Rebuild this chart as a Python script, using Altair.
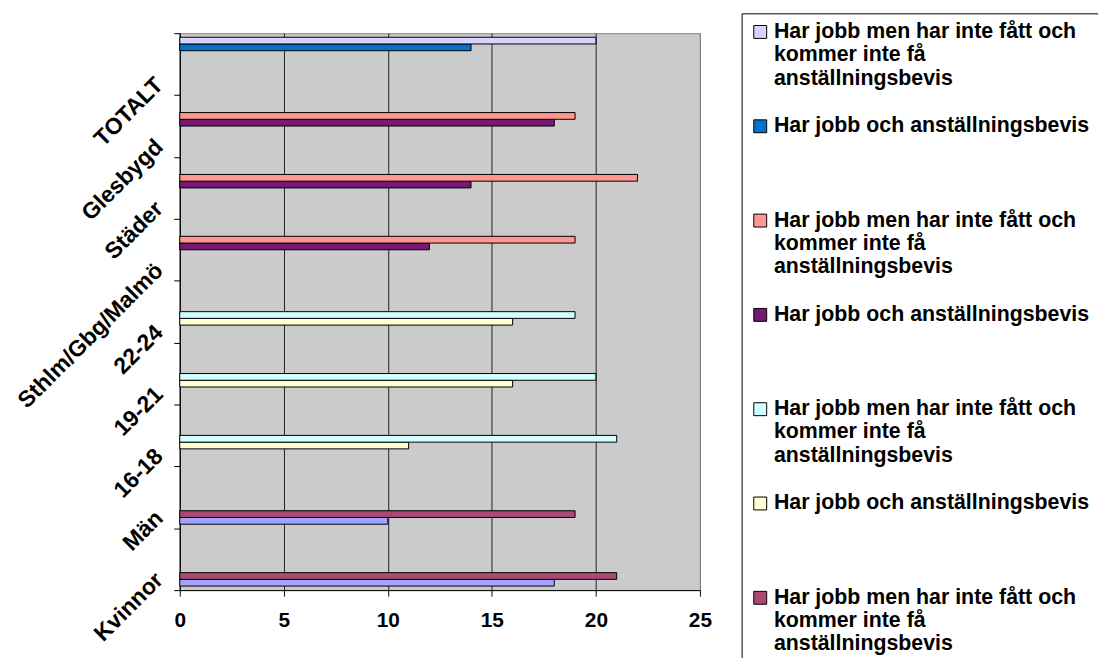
import json
import altair as alt
import pandas as pd

categories = ["Kvinnor", "Män", "16-18", "19-21", "22-24", "Sthlm/Gbg/Malmö", "Städer", "Glesbygd", "TOTALT"]
och_series = ["s1", "s1", "s3", "s3", "s3", "s5", "s5", "s5", "s7"]
och_values = [18, 10, 11, 16, 16, 12, 14, 18, 14]
men_series = ["s2", "s2", "s4", "s4", "s4", "s6", "s6", "s6", "s8"]
men_values = [21, 19, 21, 20, 19, 19, 22, 19, 20]

legend_order = ["s8", "s7", "s6", "s5", "s4", "s3", "s2", "s1"]
legend_colors = ["#D4D4FF", "#0074CC", "#FF968F", "#761874", "#D2FFFF", "#FFFFD2", "#AA4876", "#A3A3FF"]
label_men = ["Har jobb men har inte fått och", "kommer inte få", "anställningsbevis"]
label_och = "Har jobb och anställningsbevis"
x_ticks = [0, 5, 10, 15, 20, 25]

rows = []
for c, s, v in zip(categories, och_series, och_values):
    rows.append({"category": c, "series": s, "value": v})
for c, s, v in zip(categories, men_series, men_values):
    rows.append({"category": c, "series": s, "value": v})
df = pd.DataFrame(rows)

legend_labels = [label_men if s in men_series else label_och for s in legend_order]
label_expr = "{}[indexof({}, datum.value)]".format(
    json.dumps(legend_labels, ensure_ascii=False), json.dumps(legend_order)
)

FONT = "Liberation Sans"

chart = alt.Chart(df).mark_bar(stroke="#000000", strokeWidth=1).encode(
    x=alt.X(
        "value:Q",
        scale=alt.Scale(domain=[0, 25], nice=False, zero=True),
        axis=alt.Axis(
            values=x_ticks, title=None, grid=True,
            gridColor={"condition": {"test": "datum.value === 25", "value": "#808080"}, "value": "#222222"},
            gridWidth=1, domainColor="#000000", tickColor="#000000", tickSize=6,
            labelFont=FONT, labelFontSize=21, labelFontWeight="bold", labelColor="#000000",
            labelPadding=14, labelFlush=False,
        ),
    ),
    y=alt.Y(
        "category:N",
        sort=list(reversed(categories)),
        scale=alt.Scale(paddingInner=0, paddingOuter=0),
        axis=alt.Axis(
            title=None, grid=False, tickBand="extent",
            domainColor="#000000", tickColor="#000000", tickSize=6,
            labelFont=FONT, labelFontSize=23, labelFontWeight="bold", labelColor="#000000",
            labelAngle=-45, labelAlign="right", labelBaseline="middle",
            labelPadding=15, labelOffset=17, labelLimit=400,
        ),
    ),
    yOffset=alt.YOffset(
        "series:N",
        scale=alt.Scale(domain=legend_order, paddingInner=0, paddingOuter=0.6),
    ),
    color=alt.Color(
        "series:N",
        scale=alt.Scale(domain=legend_order, range=legend_colors),
        legend=alt.Legend(
            title=None, orient="none", legendX=566, legendY=-20,
            strokeColor="#000000", fillColor="#FFFFFF", padding=8,
            symbolType="square", symbolSize=169, symbolStrokeColor="#000000",
            symbolStrokeWidth=1, symbolOpacity=1,
            labelExpr=label_expr, labelFont=FONT, labelFontSize=21.5,
            labelFontWeight="bold", labelColor="#000000", labelBaseline="middle",
            labelLimit=0, labelOffset=3, gridAlign="all", rowPadding=25,
        ),
    ),
).properties(
    width=524,
    height=561,
    autosize=alt.AutoSizeParams(type="none"),
    padding={"left": 173, "top": 23, "right": 401, "bottom": 66},
    background="#FFFFFF",
).configure_view(
    stroke="#808080", strokeWidth=1, fill="#CBCBCB"
)

chart.save("out.html", embed_options={"renderer": "svg", "actions": False})
